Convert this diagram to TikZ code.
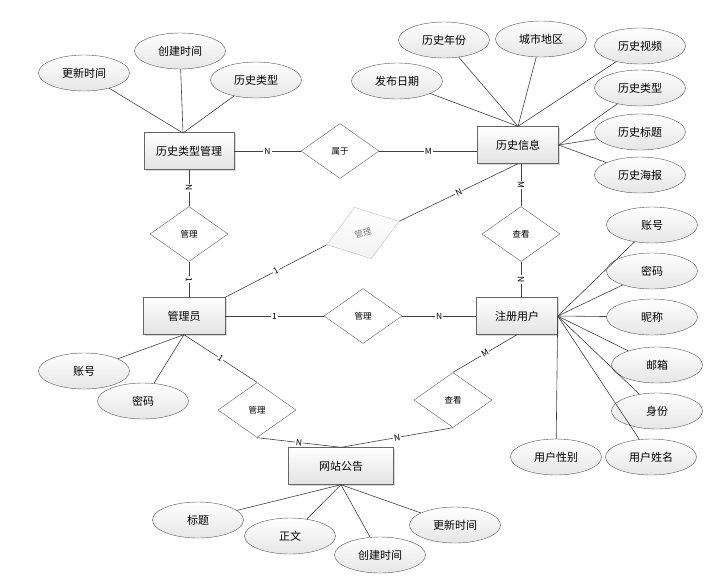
\documentclass[tikz,border=0pt]{standalone}
\usepackage{fontspec}
\setmainfont{Noto Sans CJK SC}
\usetikzlibrary{shapes.geometric,shadows}
\begin{document}
\begin{tikzpicture}[x=1pt,y=-1pt,
  entity/.style={draw=gray!80!black,top color=white,bottom color=gray!22,
    drop shadow={shadow xshift=1.5pt,shadow yshift=-1.5pt,opacity=0.3},
    minimum height=37pt,font=\fontsize{11}{11}\selectfont},
  attr/.style={ellipse,draw=gray!70!black,top color=white,bottom color=gray!20,
    minimum width=91pt,minimum height=36pt,inner sep=0pt,font=\fontsize{11}{11}\selectfont},
  rel/.style={diamond,draw=gray!75!black,fill=white,minimum width=78pt,minimum height=55pt,
    inner sep=0pt,font=\fontsize{8.5}{8.5}\selectfont},
  card/.style={fill=white,inner sep=1pt,sloped,midway,font=\fontsize{8.5}{8.5}\selectfont},
  link/.style={draw=black!75,line width=0.6pt}]
\useasboundingbox (0,0) rectangle (720,582);

\node[entity,minimum width=90pt] (htm) at (189,151) {历史类型管理};
\node[entity,minimum width=81pt] (hx) at (518,145) {历史信息};
\node[entity,minimum width=82pt] (adm) at (184,316) {管理员};
\node[entity,minimum width=81pt] (reg) at (517,316) {注册用户};
\node[entity,minimum width=105pt] (ann) at (341,466) {网站公告};

\node[rel] (belong) at (340,151) {属于};
\node[rel] (mgr1) at (189,234) {管理};
\node[rel,rotate=18,draw=gray!50,text=gray,top color=white,bottom color=gray!10,
  minimum width=76pt,minimum height=54pt] (mgr2) at (363,233) {管理};
\node[rel] (view1) at (521,234) {查看};
\node[rel] (mgr3) at (363,316) {管理};
\node[rel] (mgr4) at (257,410) {管理};
\node[rel] (view2) at (453,400) {查看};

\node[attr] (a1) at (84,73) {更新时间};
\node[attr] (a2) at (180,51) {创建时间};
\node[attr] (a3) at (256,80) {历史类型};
\node[attr] (b1) at (397,81) {发布日期};
\node[attr] (b2) at (444,40) {历史年份};
\node[attr] (b3) at (541,39) {城市地区};
\node[attr] (b4) at (640,46) {历史视频};
\node[attr] (b5) at (640,88) {历史类型};
\node[attr] (b6) at (640,132) {历史标题};
\node[attr] (b7) at (640,175) {历史海报};
\node[attr] (c1) at (84,371) {账号};
\node[attr] (c2) at (143,401) {密码};
\node[attr] (d1) at (652,225) {账号};
\node[attr] (d2) at (652,271) {密码};
\node[attr] (d3) at (652,317) {昵称};
\node[attr] (d4) at (657,365) {邮箱};
\node[attr] (d5) at (657,411) {身份};
\node[attr] (d6) at (556,457) {用户性别};
\node[attr] (d7) at (651,457) {用户姓名};
\node[attr] (e1) at (198,520) {标题};
\node[attr] (e2) at (290,536) {正文};
\node[attr] (e3) at (380,555) {创建时间};
\node[attr] (e4) at (455,525) {更新时间};
\coordinate (htmtop) at (183,133);

\draw[link] (a1) -- (htmtop);
\draw[link] (a2) -- (htmtop);
\draw[link] (a3) -- (htmtop);
\draw[link] (b1) -- (hx.north);
\draw[link] (b2) -- (hx.north);
\draw[link] (b3) -- (hx.north);
\draw[link] (b4) -- (hx.north);
\draw[link] (b5) -- (hx.east);
\draw[link] (b6) -- (hx.east);
\draw[link] (b7) -- (hx.east);
\draw[link] (c1) -- (adm.south);
\draw[link] (c2) -- (adm.south);
\draw[link] (d1) -- (reg.east);
\draw[link] (d2) -- (reg.east);
\draw[link] (d3) -- (reg.east);
\draw[link] (d4) -- (reg.east);
\draw[link] (d5) -- (reg.east);
\draw[link] (d6) -- (reg.east);
\draw[link] (d7) -- (reg.east);
\draw[link] (e1) -- (ann.south);
\draw[link] (e2) -- (ann.south);
\draw[link] (e3) -- (ann.south);
\draw[link] (e4) -- (ann.south);

\draw[link] (htm.east) -- node[card] {N} (belong.west);
\draw[link] (belong.east) -- node[card] {M} (belong.east -| hx.west);
\draw[link] (htm.south) -- node[card] {N} (mgr1.north);
\draw[link] (mgr1.south) -- node[card] {1} (mgr1.south |- adm.north);
\draw[link] (adm.north east) -- node[card] {1} (mgr2.west);
\draw[link] (mgr2.east) -- node[card] {N} (hx.south);
\draw[link] (view1.north |- hx.south) -- node[card] {M} (view1.north);
\draw[link] (view1.south) -- node[card] {N} (view1.south |- reg.north);
\draw[link] (adm.east) -- node[card] {1} (mgr3.west);
\draw[link] (mgr3.east) -- node[card] {N} (reg.west);
\draw[link] (adm.south) -- node[card] {1} (mgr4.north);
\draw[link] (mgr4.south) -- node[card] {N} (ann.north);
\draw[link] (view2.south) -- node[card] {N} (ann.north);
\draw[link] (view2.north) -- node[card] {M} (reg.south);
\end{tikzpicture}
\end{document}
